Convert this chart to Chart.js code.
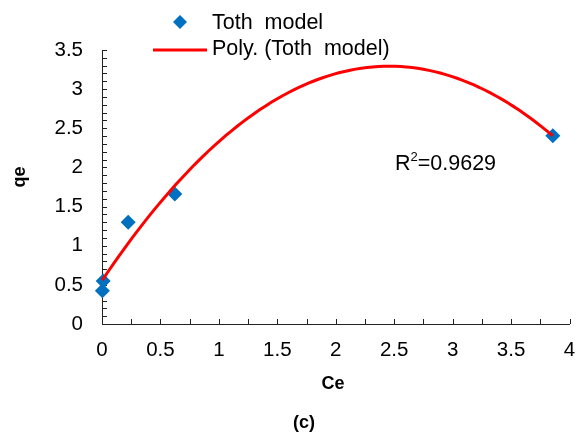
<!DOCTYPE html>
<html>
<head>
<meta charset="utf-8">
<title>Toth model</title>
<script src="https://cdn.jsdelivr.net/npm/chart.js@4.4.0/dist/chart.umd.min.js"></script>
<style>
  body { margin: 0; background: #fff; }
  #wrap { width: 577px; height: 434px; }
</style>
</head>
<body>
<div id="wrap"><canvas id="chart" width="577" height="434"></canvas></div>
<script>
// measured points
const ceValues = [0.003, 0.01, 0.224, 0.623, 3.857];
const qeValues = [0.425, 0.55, 1.30, 1.66, 2.405];

const xTicks = [0, 0.5, 1, 1.5, 2, 2.5, 3, 3.5, 4];
const yTicks = [0, 0.5, 1, 1.5, 2, 2.5, 3, 3.5];

const seriesName = 'Toth  model';
const trendName = 'Poly. (Toth  model)';
const r2Text = '0.9629';

const FONT = "'Liberation Sans', Arial, sans-serif";
const BLUE = '#0070C0';
const RED = '#FF0000';

// 2nd order least squares fit, same as the spreadsheet trendline
function polyFit2(xs, ys) {
    let s = [0, 0, 0, 0, 0], t = [0, 0, 0];
    for (let i = 0; i < xs.length; i++) {
        let p = 1;
        for (let k = 0; k < 5; k++) { s[k] += p; if (k < 3) t[k] += p * ys[i]; p *= xs[i]; }
    }
    const m = [[s[0], s[1], s[2], t[0]], [s[1], s[2], s[3], t[1]], [s[2], s[3], s[4], t[2]]];
    for (let c = 0; c < 3; c++) {
        for (let r = c + 1; r < 3; r++) {
            const f = m[r][c] / m[c][c];
            for (let k = c; k < 4; k++) m[r][k] -= f * m[c][k];
        }
    }
    const coef = [0, 0, 0];
    for (let r = 2; r >= 0; r--) {
        let v = m[r][3];
        for (let k = r + 1; k < 3; k++) v -= m[r][k] * coef[k];
        coef[r] = v / m[r][r];
    }
    return coef;
}

const coef = polyFit2(ceValues, qeValues);
const xMin = Math.min(...ceValues), xMax = Math.max(...ceValues);
const trend = [];
for (let i = 0; i <= 80; i++) {
    const x = xMin + (xMax - xMin) * i / 80;
    trend.push({x: x, y: coef[0] + coef[1] * x + coef[2] * x * x});
}

const points = ceValues.map((x, i) => ({x: x, y: qeValues[i]}));

// small tick marks pointing into the plot, plus legend and labels
const decorations = {
    id: 'decorations',
    beforeDatasetsDraw(chart) {
        const {ctx, chartArea: a, scales: {x, y}} = chart;
        ctx.save();
        ctx.strokeStyle = '#222';
        ctx.lineWidth = 1;
        ctx.beginPath();
        for (let i = 0; i <= 16; i++) {
            const px = Math.round(x.getPixelForValue(i * 0.25)) + 0.5;
            ctx.moveTo(px, a.bottom);
            ctx.lineTo(px, a.bottom - 5);
        }
        for (let i = 0; i <= 35; i++) {
            const py = Math.round(y.getPixelForValue(i * 0.1)) + 0.5;
            ctx.moveTo(a.left, py);
            ctx.lineTo(a.left + 5, py);
        }
        ctx.stroke();
        ctx.restore();
    },
    afterDraw(chart) {
        const ctx = chart.ctx;
        ctx.save();

        // legend
        ctx.fillStyle = BLUE;
        ctx.beginPath();
        ctx.moveTo(180, 15); ctx.lineTo(187, 22); ctx.lineTo(180, 29); ctx.lineTo(173, 22);
        ctx.closePath();
        ctx.fill();
        ctx.strokeStyle = RED;
        ctx.lineWidth = 3;
        ctx.beginPath();
        ctx.moveTo(153, 50); ctx.lineTo(207, 50);
        ctx.stroke();
        ctx.fillStyle = '#000';
        ctx.font = '21.5px ' + FONT;
        ctx.textBaseline = 'middle';
        ctx.textAlign = 'left';
        ctx.fillText(chart.data.datasets[1].label, 212, 23);
        ctx.fillText(chart.data.datasets[0].label, 212, 49);

        // R squared
        ctx.font = '21.5px ' + FONT;
        ctx.fillText('R', 395, 164);
        let w = ctx.measureText('R').width;
        ctx.font = '13px ' + FONT;
        ctx.fillText('2', 395 + w, 157);
        w += ctx.measureText('2').width;
        ctx.font = '21.5px ' + FONT;
        ctx.fillText('=' + r2Text, 395 + w, 164);

        // axis titles and panel label
        ctx.font = 'bold 18px ' + FONT;
        ctx.textAlign = 'center';
        ctx.fillText('Ce', 333, 384);
        ctx.fillText('(c)', 304, 423);
        ctx.translate(20, 177);
        ctx.rotate(-Math.PI / 2);
        ctx.fillText('qe', 0, 0);
        ctx.restore();
    }
};

const plainNumber = v => String(v);

new Chart(document.getElementById('chart'), {
    type: 'scatter',
    data: {
        datasets: [
            {
                label: trendName,
                data: trend,
                showLine: true,
                borderColor: RED,
                borderWidth: 3,
                pointRadius: 0,
                fill: false,
                clip: false,
                order: 0
            },
            {
                label: seriesName,
                data: points,
                pointStyle: 'rectRot',
                pointRadius: 7.5,
                backgroundColor: BLUE,
                borderColor: BLUE,
                borderWidth: 0,
                clip: false,
                order: 1
            }
        ]
    },
    options: {
        responsive: false,
        animation: false,
        layout: {padding: {left: 0, top: 50, right: 6, bottom: 0}},
        plugins: {legend: {display: false}, tooltip: {enabled: false}},
        scales: {
            x: {
                type: 'linear',
                min: 0,
                max: 4,
                afterBuildTicks: s => { s.ticks = xTicks.map(v => ({value: v})); },
                afterFit: s => { s.height = 110; s.paddingLeft = 0; s.paddingRight = 0; },
                grid: {display: true, drawOnChartArea: false, drawTicks: false},
                border: {display: true, color: '#222', width: 1},
                ticks: {color: '#000', padding: 14, font: {family: FONT, size: 20.5}, maxRotation: 0, callback: plainNumber}
            },
            y: {
                type: 'linear',
                min: 0,
                max: 3.5,
                afterBuildTicks: s => { s.ticks = yTicks.map(v => ({value: v})); },
                afterFit: s => { s.width = 102; s.paddingTop = 0; s.paddingBottom = 0; },
                grid: {display: true, drawOnChartArea: false, drawTicks: false},
                border: {display: true, color: '#222', width: 1},
                ticks: {color: '#000', padding: 19, font: {family: FONT, size: 20.5}, callback: plainNumber}
            }
        }
    },
    plugins: [decorations]
});
</script>
</body>
</html>
